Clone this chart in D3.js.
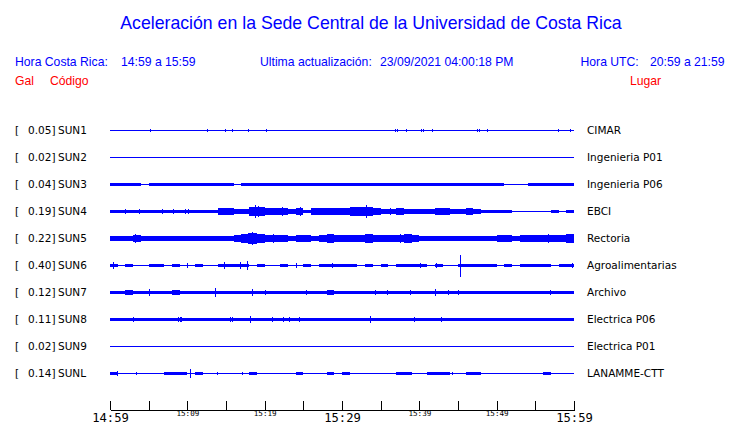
<!DOCTYPE html>
<html><head><meta charset="utf-8">
<script src="https://cdn.jsdelivr.net/npm/d3@7"></script>
<style>
html,body{margin:0;padding:0;background:#fff;}
svg{display:block;}
</style></head>
<body>
<svg id="chart" width="740" height="423"></svg>
<script>
// ---------- DATA ----------
const stations = ["SUN1","SUN2","SUN3","SUN4","SUN5","SUN6","SUN7","SUN8","SUN9","SUNL"];
const peakGal  = [0.05,0.02,0.04,0.19,0.22,0.40,0.12,0.11,0.02,0.14];
const places   = ["CIMAR","Ingenieria P01","Ingenieria P06","EBCI","Rectoria","Agroalimentarias","Archivo","Electrica P06","Electrica P01","LANAMME-CTT"];
const tickLabelsLarge = ["14:59","15:29","15:59"];
const tickLabelsSmall = ["15:09","15:19","15:39","15:49"];

// envelope per minute (14:59 .. 15:58), % of the channel's peak
const envSUN1 = [0,0,0,0,0,0,0,0,0,0,0,0,0,0,0,0,0,0,0,0,0,0,0,0,0,0,0,0,0,0,0,0,0,0,0,0,0,0,0,0,0,0,0,0,0,0,0,0,0,0,0,0,0,0,0,0,0,0,0,0];
const envSUN2 = [0,0,0,0,0,0,0,0,0,0,0,0,0,0,0,0,0,0,0,0,0,0,0,0,0,0,0,0,0,0,0,0,0,0,0,0,0,0,0,0,0,0,0,0,0,0,0,0,0,0,0,0,0,0,0,0,0,0,0,0];
const envSUN3 = [15,15,12,10,3,12,12,12,15,15,15,15,10,10,15,12,5,10,15,15,10,15,12,10,12,10,15,15,15,15,15,15,15,12,15,15,10,12,12,12,12,15,15,15,15,15,15,12,12,12,10,2,8,8,15,15,15,12,15,15];
const envSUN4 = [15,15,15,15,15,15,15,15,15,15,15,15,15,15,30,30,25,25,40,40,28,28,35,25,35,18,30,30,32,30,32,38,40,45,32,25,22,28,25,22,22,25,28,32,25,22,28,25,12,10,10,10,9,9,9,9,9,10,9,10];
const envSUN5 = [22,22,22,32,22,22,25,22,22,25,22,22,25,22,22,25,28,40,50,38,35,35,30,25,30,30,25,35,38,35,32,32,32,40,30,28,30,30,40,28,25,25,22,22,25,22,22,25,25,25,28,28,25,28,28,30,35,30,35,38];
const envSUN6 = [15,5,10,8,8,10,10,6,10,8,6,12,6,8,10,12,10,10,8,12,8,6,12,6,8,12,6,12,12,10,10,10,5,10,6,10,6,12,12,12,10,6,10,8,8,10,10,10,10,12,6,10,8,10,10,10,10,8,10,12];
const envSUN7 = [18,18,22,16,10,18,18,18,20,16,16,16,16,16,18,18,16,14,14,16,16,18,18,18,18,18,18,18,20,18,18,18,17,18,18,18,17,18,18,18,18,17,18,18,18,18,18,17,18,18,18,18,17,18,18,18,18,18,18,18];
const envSUN8 = [16,16,16,16,16,16,16,16,16,16,16,16,16,16,16,16,16,16,16,16,16,16,16,16,16,16,16,16,16,16,18,18,16,16,16,16,16,16,16,16,16,16,16,16,16,16,16,16,16,16,16,16,16,16,16,16,16,16,17,17];
const envSUN9 = [0,0,0,0,0,0,0,0,0,0,0,0,0,0,0,0,0,0,0,0,0,0,0,0,0,0,0,0,0,0,0,0,0,0,0,0,0,0,0,0,0,0,0,0,0,0,0,0,0,0,0,0,0,0,0,0,0,0,0,0];
const envSUNL = [10,4,8,6,5,3,5,10,12,10,8,10,5,5,8,3,8,3,10,5,5,4,4,6,10,3,5,3,10,6,10,4,5,5,8,8,5,10,10,4,5,10,10,10,6,8,10,10,6,4,5,6,6,5,5,8,10,5,5,5];

// isolated peaks: [minutes after 14:59, % of channel peak]
const spkSUN1 = [[5.2,14],[12.5,12],[13.2,9],[13.4,9],[14.9,12],[15.8,12],[17.8,12],[20.2,14],[22.4,6],[30.3,9],[30.8,9],[31.0,9],[35.6,6],[36.9,14],[37.1,14],[38.3,12],[39.2,9],[40.2,12],[40.5,12],[41.6,12],[43.3,6],[47.5,14],[47.7,14],[48.8,12],[54.2,6],[57.9,12],[59.5,12]];
const spkSUN2 = [];
const spkSUN3 = [];
const spkSUN4 = [[1.9,22],[3.7,25],[6.7,22],[8.2,25],[9.7,20],[10.1,20],[18.75,55],[19.2,50],[22.2,42],[24.6,40],[31.0,40],[33.1,55],[36.2,35],[42.7,35],[43.6,35]];
const spkSUN5 = [[3.2,40],[17.9,50],[18.3,55],[19.0,45],[21.1,40],[25.0,35],[28.4,45],[33.1,45],[37.5,40],[56.7,38],[59.5,40]];
const spkSUN6 = [[0.43,36],[9.9,27],[14.7,30],[16.8,36],[17.7,40],[24.1,27],[28.7,20],[40.1,27],[42.2,22],[45.3,100],[59.8,20]];
const spkSUN7 = [[5.1,36],[8.75,27],[13.6,45],[18.4,32],[20.1,24],[25.3,24],[28.9,27],[34.3,20],[35.8,24],[38.8,27],[42.0,32],[43.7,24],[45.0,27],[56.9,27]];
const spkSUN8 = [[3.0,22],[8.8,27],[9.0,27],[9.2,27],[15.5,24],[15.8,24],[18.1,32],[21.0,27],[22.4,24],[23.1,27],[24.5,20],[33.6,30],[39.3,20],[42.8,20]];
const spkSUN9 = [[41.0,8],[42.7,6]];
const spkSUNL = [[0.9,22],[3.4,14],[10.3,40],[13.8,14],[17.1,14],[44.2,16]];

const envelopes = [envSUN1,envSUN2,envSUN3,envSUN4,envSUN5,envSUN6,envSUN7,envSUN8,envSUN9,envSUNL];
const spikes    = [spkSUN1,spkSUN2,spkSUN3,spkSUN4,spkSUN5,spkSUN6,spkSUN7,spkSUN8,spkSUN9,spkSUNL];

// ---------- DRAWING ----------
const BLUE = "#0000ff", RED = "#ff0000";
const svg = d3.select("#chart");
const t0 = new Date(2021, 8, 23, 14, 59), t1 = new Date(2021, 8, 23, 15, 59);
const atMin = m => new Date(t0.getTime() + m * 60000);

const x = d3.scaleTime().domain([t0, t1]).range([110, 574]);
const row = d3.scalePoint().domain(stations).range([130, 373]);
const amp = d3.scaleLinear().domain([-100, 100]).range([11, -11]);

const sans = "'Liberation Sans', Arial, Helvetica, sans-serif";
const dejavu = "'DejaVu Sans', Verdana, sans-serif";

svg.append("text").attr("x", 371).attr("y", 29).attr("text-anchor", "middle")
  .attr("font-family", sans).attr("font-size", 17.7).attr("fill", BLUE)
  .text("Aceleración en la Sede Central de la Universidad de Costa Rica");

const hdr = [["Hora Costa Rica:",15],["14:59 a 15:59",121],["Ultima actualización:",260],["23/09/2021 04:00:18 PM",380],["Hora UTC:",580.5],["20:59 a 21:59",650]];
svg.selectAll("text.hdr").data(hdr).join("text").attr("class","hdr")
  .attr("x", d => d[1]).attr("y", 65.5).attr("font-family", sans).attr("font-size", 12.2)
  .attr("fill", BLUE).text(d => d[0]);

const hdr2 = [["Gal",15],["Código",50],["Lugar",630]];
svg.selectAll("text.hdr2").data(hdr2).join("text").attr("class","hdr2")
  .attr("x", d => d[1]).attr("y", 85).attr("font-family", sans).attr("font-size", 12.2)
  .attr("fill", RED).text(d => d[0]);

// rows
const rows = svg.selectAll("g.row").data(stations.map((s, i) => ({s, i}))).join("g").attr("class","row");

rows.append("text").attr("x", 15).attr("y", d => row(d.s) + 4).attr("font-family", dejavu)
  .attr("font-size", 10.5).attr("fill", "#000").text("[");
rows.append("text").attr("x", 55.5).attr("y", d => row(d.s) + 4).attr("text-anchor","end")
  .attr("font-family", dejavu).attr("font-size", 10.5).attr("fill", "#000")
  .text(d => peakGal[d.i].toFixed(2) + "]");
rows.append("text").attr("x", 58).attr("y", d => row(d.s) + 4).attr("font-family", dejavu)
  .attr("font-size", 10.5).attr("fill", "#000").text(d => d.s);
rows.append("text").attr("x", 587).attr("y", d => row(d.s) + 4).attr("font-family", dejavu)
  .attr("font-size", 10.5).attr("fill", "#000").text(d => places[d.i]);

// baseline traces
rows.append("line").attr("x1", x(t0)).attr("x2", x(t1))
  .attr("y1", d => row(d.s) + 0.5).attr("y2", d => row(d.s) + 0.5)
  .attr("stroke", BLUE).attr("stroke-width", 1).attr("shape-rendering","crispEdges");

// envelopes + peaks
rows.each(function(d) {
  const g = d3.select(this);
  const y0 = row(d.s) + 0.5;
  const env = envelopes[d.i];
  const half = v => amp(0) - amp(v);
  const pts = env.map((v, k) => [k, v]).concat([[env.length, env[env.length - 1]]]);
  const area = d3.area().curve(d3.curveStepAfter)
    .x(p => x(atMin(p[0])))
    .y0(p => y0 - half(p[1]))
    .y1(p => y0 + half(p[1]));
  g.append("path").datum(pts).attr("d", area).attr("fill", BLUE).attr("shape-rendering","crispEdges");
  g.selectAll("line.spk").data(spikes[d.i]).join("line").attr("class","spk")
    .attr("x1", p => Math.round(x(atMin(p[0]))) + 0.5).attr("x2", p => Math.round(x(atMin(p[0]))) + 0.5)
    .attr("y1", p => y0 - half(p[1])).attr("y2", p => y0 + half(p[1]))
    .attr("stroke", BLUE).attr("stroke-width", 1).attr("shape-rendering","crispEdges");
});

// time axis
const tickTimes = d3.range(0, 61, 5).map(atMin);
const fmt = d3.timeFormat("%H:%M");
const axis = d3.axisBottom(x).tickValues(tickTimes).tickSizeInner(-9).tickSizeOuter(0)
  .tickFormat(d => { const s = fmt(d); return (tickLabelsLarge.includes(s) || tickLabelsSmall.includes(s)) ? s : ""; });
const ag = svg.append("g").attr("transform", "translate(0,409.5)").call(axis);
ag.select(".domain").attr("stroke", "#000").attr("shape-rendering","crispEdges");
ag.selectAll(".tick line").attr("stroke", "#000").attr("shape-rendering","crispEdges");
ag.selectAll(".tick text").attr("fill", "#000").attr("font-family", "'DejaVu Sans Mono', monospace")
  .attr("dy", 0)
  .attr("font-size", d => tickLabelsLarge.includes(fmt(d)) ? 12.2 : 7.6)
  .attr("y", d => tickLabelsLarge.includes(fmt(d)) ? 12 : 6.8);
</script>
</body></html>
